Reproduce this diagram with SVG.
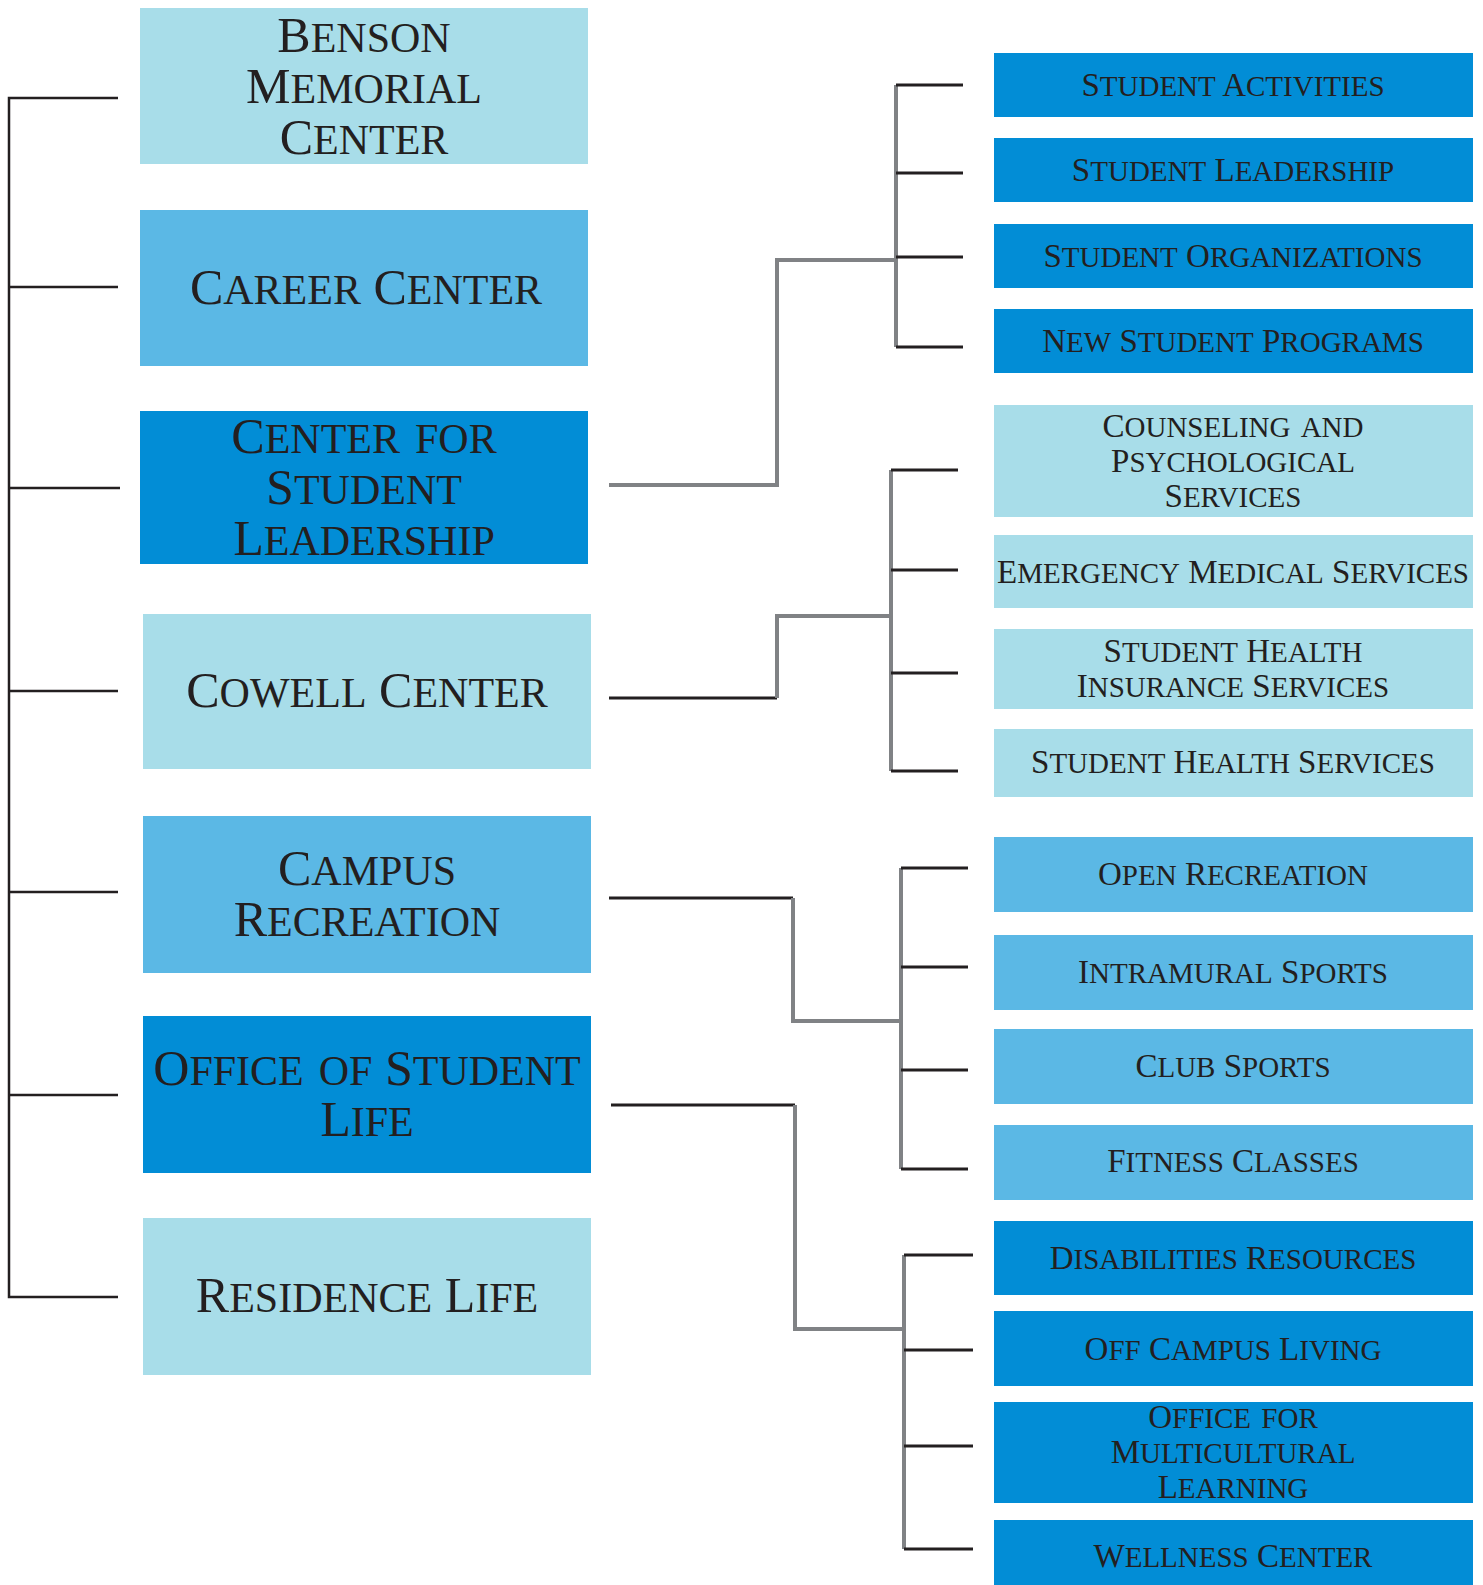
<svg xmlns="http://www.w3.org/2000/svg" width="1483" height="1585" viewBox="0 0 1483 1585">
<style>
text{font-family:"Liberation Serif","Times New Roman",serif;fill:#231F20;text-anchor:middle}
.L{font-size:50px}
.L .s{font-size:60px;font-variant:small-caps}
.R{font-size:33px}
.R .s{font-size:41px;font-variant:small-caps}
.lt{fill:#A8DDE9}
.md{fill:#5BB8E5}
.dk{fill:#028DD6}
.ax{stroke:#231F20;stroke-width:2.5;fill:none}
.tk{stroke:#231F20;stroke-width:3;fill:none}
.gr{stroke:#808285;stroke-width:4;fill:none}
</style>
<rect width="1483" height="1585" fill="#fff"/>
<g id="connectors">
  <path class="ax" d="M118 98H9V1297H118M9 287H118M9 488H120M9 691H118M9 892H118M9 1095H118"/>
  <path class="gr" d="M609 485H777V260H896M896 85V347"/>
  <path class="tk" d="M896 85H963M896 173H963M896 257H963M896 347H963"/>
  <path class="tk" d="M609 698H777"/>
  <path class="gr" d="M777 698V616H891M891 470V771"/>
  <path class="tk" d="M891 470H958M891 570H958M891 673H958M891 771H958"/>
  <path class="tk" d="M609 898H793"/>
  <path class="gr" d="M793 898V1021H901M901 868V1169"/>
  <path class="tk" d="M901 868H968M901 967H968M901 1070H968M901 1169H968"/>
  <path class="tk" d="M611 1105H795"/>
  <path class="gr" d="M795 1105V1329H904M904 1255V1549"/>
  <path class="tk" d="M904 1255H973M904 1350H973M904 1446H973M904 1549H973"/>
</g>
<g id="benson"><rect class="lt" x="140" y="8" width="448" height="156"/>
<text class="L"><tspan x="364" y="52">B<tspan class="s">enson</tspan></tspan><tspan x="364" y="103">M<tspan class="s">emorial</tspan></tspan><tspan x="364" y="154">C<tspan class="s">enter</tspan></tspan></text></g>
<g id="career"><rect class="md" x="140" y="210" width="448" height="156"/>
<text class="L" x="366" y="304">C<tspan class="s">areer</tspan> C<tspan class="s">enter</tspan></text></g>
<g id="csl"><rect class="dk" x="140" y="411" width="448" height="153"/>
<text class="L"><tspan x="364" y="453">C<tspan class="s">enter for</tspan></tspan><tspan x="364" y="504">S<tspan class="s">tudent</tspan></tspan><tspan x="364" y="555">L<tspan class="s">eadership</tspan></tspan></text></g>
<g id="cowell"><rect class="lt" x="143" y="614" width="448" height="155"/>
<text class="L" x="367" y="707">C<tspan class="s">owell</tspan> C<tspan class="s">enter</tspan></text></g>
<g id="campusrec"><rect class="md" x="143" y="816" width="448" height="157"/>
<text class="L"><tspan x="367" y="885">C<tspan class="s">ampus</tspan></tspan><tspan x="367" y="936">R<tspan class="s">ecreation</tspan></tspan></text></g>
<g id="osl"><rect class="dk" x="143" y="1016" width="448" height="157"/>
<text class="L"><tspan x="367" y="1085">O<tspan class="s">ffice of</tspan> S<tspan class="s">tudent</tspan></tspan><tspan x="367" y="1136">L<tspan class="s">ife</tspan></tspan></text></g>
<g id="residence"><rect class="lt" x="143" y="1218" width="448" height="157"/>
<text class="L" x="367" y="1312">R<tspan class="s">esidence</tspan> L<tspan class="s">ife</tspan></text></g>

<g id="activities"><rect class="dk" x="994" y="53" width="479" height="64"/>
<text class="R" x="1233" y="96">S<tspan class="s">tudent</tspan> A<tspan class="s">ctivities</tspan></text></g>
<g id="leadership"><rect class="dk" x="994" y="138" width="479" height="64"/>
<text class="R" x="1233" y="181">S<tspan class="s">tudent</tspan> L<tspan class="s">eadership</tspan></text></g>
<g id="organizations"><rect class="dk" x="994" y="224" width="479" height="64"/>
<text class="R" x="1233" y="267">S<tspan class="s">tudent</tspan> O<tspan class="s">rganizations</tspan></text></g>
<g id="newstudent"><rect class="dk" x="994" y="309" width="479" height="64"/>
<text class="R" x="1233" y="352">N<tspan class="s">ew</tspan> S<tspan class="s">tudent</tspan> P<tspan class="s">rograms</tspan></text></g>

<g id="counseling"><rect class="lt" x="994" y="405" width="479" height="112"/>
<text class="R"><tspan x="1233" y="437">C<tspan class="s">ounseling and</tspan></tspan><tspan x="1233" y="472">P<tspan class="s">sychological</tspan></tspan><tspan x="1233" y="507">S<tspan class="s">ervices</tspan></tspan></text></g>
<g id="ems"><rect class="lt" x="994" y="535" width="479" height="73"/>
<text class="R" x="1233" y="583">E<tspan class="s">mergency</tspan> M<tspan class="s">edical</tspan> S<tspan class="s">ervices</tspan></text></g>
<g id="shis"><rect class="lt" x="994" y="629" width="479" height="80"/>
<text class="R"><tspan x="1233" y="662">S<tspan class="s">tudent</tspan> H<tspan class="s">ealth</tspan></tspan><tspan x="1233" y="697">I<tspan class="s">nsurance</tspan> S<tspan class="s">ervices</tspan></tspan></text></g>
<g id="shs"><rect class="lt" x="994" y="729" width="479" height="68"/>
<text class="R" x="1233" y="773">S<tspan class="s">tudent</tspan> H<tspan class="s">ealth</tspan> S<tspan class="s">ervices</tspan></text></g>

<g id="openrec"><rect class="md" x="994" y="837" width="479" height="75"/>
<text class="R" x="1233" y="885">O<tspan class="s">pen</tspan> R<tspan class="s">ecreation</tspan></text></g>
<g id="intramural"><rect class="md" x="994" y="935" width="479" height="75"/>
<text class="R" x="1233" y="983">I<tspan class="s">ntramural</tspan> S<tspan class="s">ports</tspan></text></g>
<g id="club"><rect class="md" x="994" y="1029" width="479" height="75"/>
<text class="R" x="1233" y="1077">C<tspan class="s">lub</tspan> S<tspan class="s">ports</tspan></text></g>
<g id="fitness"><rect class="md" x="994" y="1125" width="479" height="75"/>
<text class="R" x="1233" y="1172">F<tspan class="s">itness</tspan> C<tspan class="s">lasses</tspan></text></g>

<g id="disabilities"><rect class="dk" x="994" y="1221" width="479" height="74"/>
<text class="R" x="1233" y="1269">D<tspan class="s">isabilities</tspan> R<tspan class="s">esources</tspan></text></g>
<g id="offcampus"><rect class="dk" x="994" y="1311" width="479" height="75"/>
<text class="R" x="1233" y="1360">O<tspan class="s">ff</tspan> C<tspan class="s">ampus</tspan> L<tspan class="s">iving</tspan></text></g>
<g id="oml"><rect class="dk" x="994" y="1402" width="479" height="101"/>
<text class="R"><tspan x="1233" y="1428">O<tspan class="s">ffice for</tspan></tspan><tspan x="1233" y="1463">M<tspan class="s">ulticultural</tspan></tspan><tspan x="1233" y="1498">L<tspan class="s">earning</tspan></tspan></text></g>
<g id="wellness"><rect class="dk" x="994" y="1520" width="479" height="65"/>
<text class="R" x="1233" y="1567">W<tspan class="s">ellness</tspan> C<tspan class="s">enter</tspan></text></g>
</svg>
